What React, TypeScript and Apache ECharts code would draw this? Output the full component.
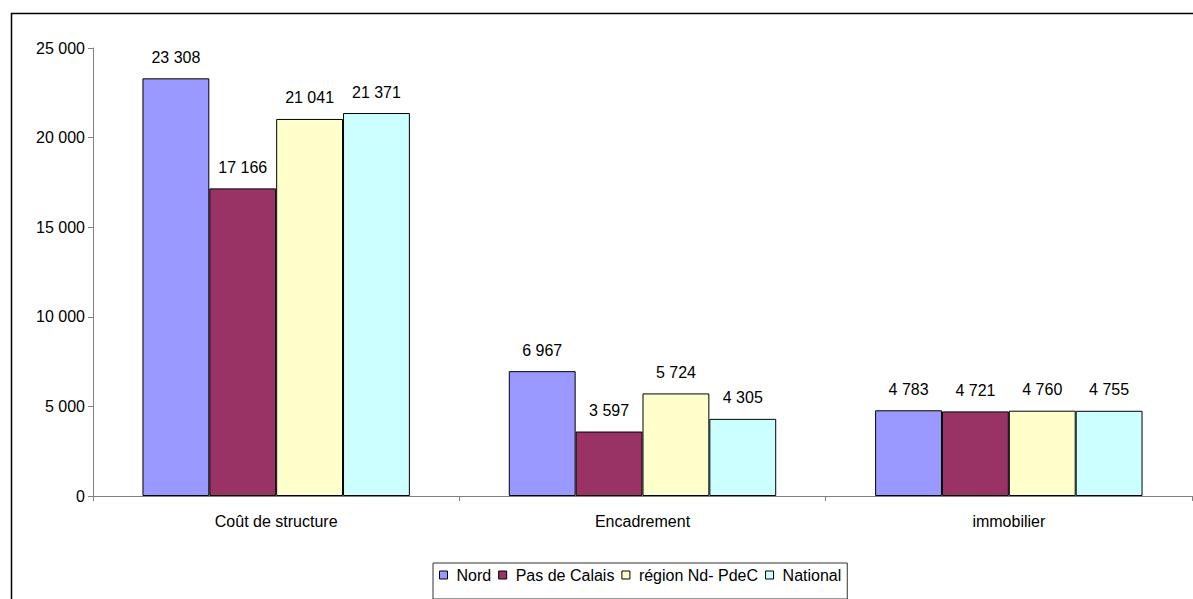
import React, { useEffect, useRef } from "react";
import * as echarts from "echarts";

const categories = ["Coût de structure", "Encadrement", "immobilier"];
const seriesNames = ["Nord", "Pas de Calais", "région Nd- PdeC", "National"];
const nord = [23308, 6967, 4783];
const pasDeCalais = [17166, 3597, 4721];
const region = [21041, 5724, 4760];
const national = [21371, 4305, 4755];
const colors = ["#9999FF", "#993366", "#FFFFCC", "#CCFFFF"];

const fmt = (v: number) => String(v).replace(/\B(?=(\d{3})+(?!\d))/g, " ");

export default function App() {
  const ref = useRef<HTMLDivElement>(null);
  useEffect(() => {
    const chart = echarts.init(ref.current!, null, { renderer: "svg" });
    const values = [nord, pasDeCalais, region, national];
    chart.setOption({
      animation: false,
      textStyle: { fontFamily: "Liberation Sans, Arial, sans-serif" },
      graphic: [
        {
          type: "rect",
          shape: { x: 11.5, y: 13.5, width: 1200, height: 620 },
          style: { fill: "none", stroke: "#000", lineWidth: 1.5 },
          z: 100,
        },
      ],
      grid: { left: 93, right: 1, top: 48, bottom: 103, containLabel: false },
      legend: {
        left: 433,
        top: 563,
        padding: [4, 6, 16, 6],
        itemGap: 7,
        itemWidth: 8,
        itemHeight: 8,
        icon: "rect",
        borderColor: "#333",
        borderWidth: 1,
        textStyle: { fontSize: 16, color: "#000", padding: [0, 0, 0, 4] },
        itemStyle: { borderColor: "#000", borderWidth: 1 },
        data: seriesNames,
      },
      xAxis: {
        type: "category",
        data: categories,
        axisLine: { lineStyle: { color: "#808080", width: 1 } },
        axisTick: { show: true, length: 5, lineStyle: { color: "#808080" } },
        axisLabel: { color: "#000", fontSize: 16, margin: 17 },
      },
      yAxis: {
        type: "value",
        min: 0,
        max: 25000,
        interval: 5000,
        axisLine: { show: true, lineStyle: { color: "#808080", width: 1 } },
        axisTick: { show: true, length: 5, lineStyle: { color: "#808080" } },
        splitLine: { show: false },
        axisLabel: { color: "#000", fontSize: 16, margin: 8, formatter: (v: number) => fmt(v) },
      },
      series: seriesNames.map((name, i) => ({
        name,
        type: "bar",
        data: values[i],
        barGap: "0%",
        barCategoryGap: "27%",
        itemStyle: { color: colors[i], borderColor: "#000", borderWidth: 1 },
        label: {
          show: true,
          position: "top",
          distance: 13,
          color: "#000",
          fontSize: 16,
          formatter: (p: any) => fmt(p.value),
        },
      })),
    });
    return () => chart.dispose();
  }, []);
  return (
    <div
      ref={ref}
      style={{ position: "fixed", left: 0, top: 0, width: 1193, height: 599, background: "#fff" }}
    />
  );
}
